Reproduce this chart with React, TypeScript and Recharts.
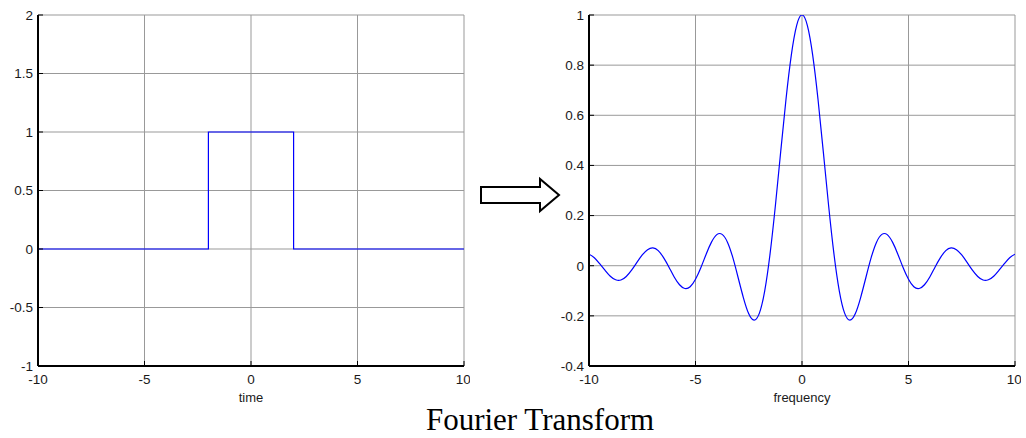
import React from "react"
import { LineChart, Line, XAxis, YAxis, CartesianGrid } from "recharts"

// left plot: rectangular pulse
const timeX = [-10, -2, -2, 2, 2, 10]
const pulseY = [0, 0, 1, 1, 0, 0]

// right plot: spectrum (step 0.25)
const freqX = [
  -10, -9.75, -9.5, -9.25, -9, -8.75, -8.5, -8.25, -8, -7.75, -7.5, -7.25, -7, -6.75, -6.5, -6.25,
  -6, -5.75, -5.5, -5.25, -5, -4.75, -4.5, -4.25, -4, -3.75, -3.5, -3.25, -3, -2.75, -2.5, -2.25,
  -2, -1.75, -1.5, -1.25, -1, -0.75, -0.5, -0.25, 0, 0.25, 0.5, 0.75, 1, 1.25, 1.5, 1.75,
  2, 2.25, 2.5, 2.75, 3, 3.25, 3.5, 3.75, 4, 4.25, 4.5, 4.75, 5, 5.25, 5.5, 5.75,
  6, 6.25, 6.5, 6.75, 7, 7.25, 7.5, 7.75, 8, 8.25, 8.5, 8.75, 9, 9.25, 9.5, 9.75, 10,
]
const spectrumY = [
  0.046, 0.032, 0.008, -0.018, -0.042, -0.056, -0.057, -0.043, -0.018, 0.013, 0.043, 0.064, 0.071, 0.06, 0.032, -0.005,
  -0.045, -0.076, -0.091, -0.084, -0.054, -0.008, 0.046, 0.094, 0.124, 0.125, 0.094, 0.033, -0.047, -0.128, -0.192, -0.217,
  -0.189, -0.1, 0.047, 0.239, 0.455, 0.665, 0.841, 0.959, 1, 0.959, 0.841, 0.665, 0.455, 0.239, 0.047, -0.1,
  -0.189, -0.217, -0.192, -0.128, -0.047, 0.033, 0.094, 0.125, 0.124, 0.094, 0.046, -0.008, -0.054, -0.084, -0.091, -0.076,
  -0.045, -0.005, 0.032, 0.06, 0.071, 0.064, 0.043, 0.013, -0.018, -0.043, -0.057, -0.056, -0.042, -0.018, 0.008, 0.032, 0.046,
]

const xTicks = [-10, -5, 0, 5, 10]
const pulseTicks = [-1, -0.5, 0, 0.5, 1, 1.5, 2]
const spectrumTicks = [-0.4, -0.2, 0, 0.2, 0.4, 0.6, 0.8, 1]

const pulseData = timeX.map((x, i) => ({ x, y: pulseY[i] }))
const spectrumData = freqX.map((x, i) => ({ x, y: spectrumY[i] }))

const tickFont = { fontSize: 13.5, fill: "#1a1a1a", fontFamily: "Liberation Sans, Arial, sans-serif" }
const frame = { stroke: "#000", strokeWidth: 2 }
const tickLine = { stroke: "#000", strokeWidth: 1 }
const noLabel = () => <g />

function Panel({
  data,
  yDomain,
  yTicks,
  xLabel,
  curve,
}: {
  data: { x: number; y: number }[]
  yDomain: [number, number]
  yTicks: number[]
  xLabel: string
  curve: "linear" | "natural"
}) {
  return (
    <LineChart width={470} height={410} data={data} margin={{ top: 15, right: 6, left: 0, bottom: 0 }}>
      <CartesianGrid stroke="#999" strokeWidth={1} />
      <XAxis
        dataKey="x"
        type="number"
        domain={[-10, 10]}
        ticks={xTicks}
        allowDataOverflow
        height={44}
        tick={tickFont}
        tickSize={-5}
        tickMargin={13}
        tickLine={tickLine}
        axisLine={frame}
        label={{
          value: xLabel,
          position: "insideBottom",
          offset: 8.5,
          style: { ...tickFont, fontSize: 13 },
        }}
      />
      <XAxis
        xAxisId="top"
        orientation="top"
        type="number"
        domain={[-10, 10]}
        ticks={xTicks}
        allowDataOverflow
        height={0}
        tick={noLabel}
        tickSize={-5}
        tickLine={tickLine}
        axisLine={frame}
      />
      <YAxis
        type="number"
        domain={yDomain}
        ticks={yTicks}
        allowDataOverflow
        width={38}
        tick={tickFont}
        tickSize={-5}
        tickMargin={10}
        tickLine={tickLine}
        axisLine={frame}
      />
      <YAxis
        yAxisId="right"
        orientation="right"
        type="number"
        domain={yDomain}
        ticks={yTicks}
        allowDataOverflow
        width={0}
        tick={noLabel}
        tickSize={-5}
        tickLine={tickLine}
        axisLine={{ stroke: "#000", strokeWidth: 1.2 }}
      />
      <Line
        dataKey="y"
        type={curve}
        stroke="#0000ff"
        strokeWidth={1.2}
        dot={false}
        activeDot={false}
        isAnimationActive={false}
      />
    </LineChart>
  )
}

export default function App() {
  return (
    <div style={{ position: "absolute", left: 0, top: 0, width: 1026, height: 438, background: "#fff" }}>
      <div style={{ position: "absolute", left: 0, top: 0 }}>
        <Panel data={pulseData} yDomain={[-1, 2]} yTicks={pulseTicks} xLabel="time" curve="linear" />
      </div>
      <div style={{ position: "absolute", left: 551, top: 0 }}>
        <Panel data={spectrumData} yDomain={[-0.4, 1]} yTicks={spectrumTicks} xLabel="frequency" curve="natural" />
      </div>
      <svg width={1026} height={438} style={{ position: "absolute", left: 0, top: 0, pointerEvents: "none" }}>
        <polygon
          points="481,187 540,187 540,179 559,195 540,211 540,203 481,203"
          fill="#fff"
          stroke="#000"
          strokeWidth={2}
        />
        <text x={540} y={430} textAnchor="middle" fontFamily="Liberation Serif, Times New Roman, serif" fontSize={31} fill="#000">
          Fourier Transform
        </text>
      </svg>
    </div>
  )
}
